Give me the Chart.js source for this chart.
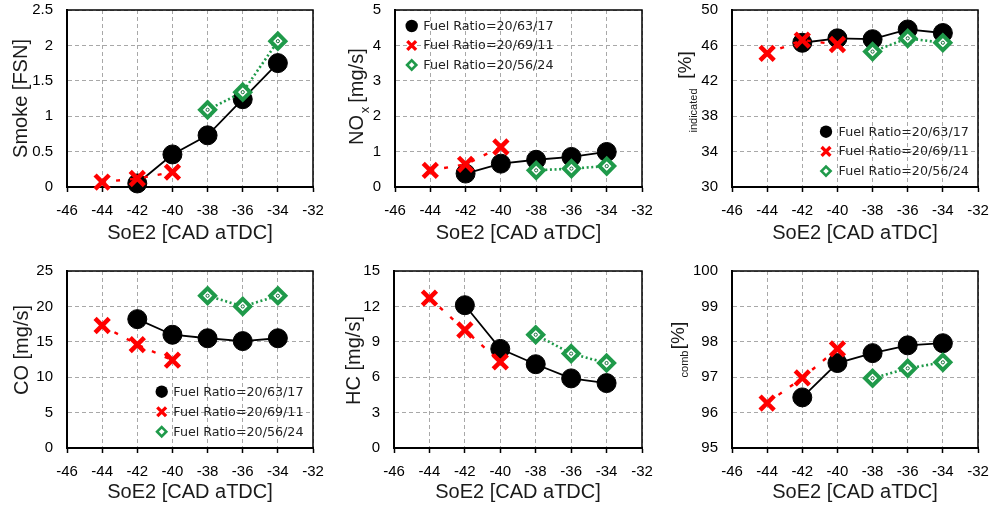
<!DOCTYPE html>
<html><head><meta charset="utf-8">
<script src="https://cdn.jsdelivr.net/npm/chart.js@4.4.0/dist/chart.umd.min.js"></script>
<style>
html,body{margin:0;padding:0;background:#fff;}
#wrap{position:relative;width:992px;height:508px;overflow:hidden;background:#fff;}
.cell{position:absolute;}
.cell canvas{display:block;}
</style></head><body><div id="wrap"></div>
<script>
// ---------------- data ----------------
const seriesNames = ['Fuel Ratio=20/63/17', 'Fuel Ratio=20/69/11', 'Fuel Ratio=20/56/24'];
const xTicks = [-46, -44, -42, -40, -38, -36, -34, -32];
const xTitle = 'SoE2 [CAD aTDC]';

const soeBlack = [-42, -40, -38, -36, -34];
const soeRed = [-44, -42, -40];
const soeGreen = [-38, -36, -34];

const smokeBlack = [0.05, 0.46, 0.73, 1.24, 1.75];
const smokeRed = [0.07, 0.12, 0.21];
const smokeGreen = [1.09, 1.34, 2.06];
const smokeTicks = [0, 0.5, 1, 1.5, 2, 2.5];

const noxBlack = [0.38, 0.66, 0.77, 0.85, 0.99];
const noxRed = [0.47, 0.64, 1.13];
const noxGreen = [0.47, 0.52, 0.59];
const noxTicks = [0, 1, 2, 3, 4, 5];

const etaIndBlack = [46.3, 46.8, 46.7, 47.8, 47.4];
const etaIndRed = [45.1, 46.6, 46.1];
const etaIndGreen = [45.3, 46.8, 46.3];
const etaIndTicks = [30, 34, 38, 42, 46, 50];

const coBlack = [18.2, 16.0, 15.5, 15.1, 15.5];
const coRed = [17.3, 14.6, 12.4];
const coGreen = [21.5, 20.0, 21.5];
const coTicks = [0, 5, 10, 15, 20, 25];

const hcBlack = [12.1, 8.4, 7.1, 5.9, 5.5];
const hcRed = [12.7, 10.0, 7.3];
const hcGreen = [9.6, 8.0, 7.2];
const hcTicks = [0, 3, 6, 9, 12, 15];

const etaCombBlack = [96.43, 97.4, 97.68, 97.9, 97.96];
const etaCombRed = [96.27, 96.98, 97.8];
const etaCombGreen = [96.97, 97.25, 97.42];
const etaCombTicks = [95, 96, 97, 98, 99, 100];

// ---------------- styles ----------------
const BLACK = '#000000', RED = '#ff0000', GREEN = '#1f9a4a';
const TXT = '#1a1a1a';
const FONT = '"Liberation Sans", Arial, sans-serif';
Chart.defaults.font.family = FONT;
Chart.defaults.color = TXT;

const panels = [
  {cell:[0,0,330,254], pad:{top:10,right:17}, yW:67, xH:67, xTitlePad:9,
   series:[smokeBlack, smokeRed, smokeGreen], ticks:smokeTicks,
   yTitle:[{t:'Smoke [FSN]', x:21, y:98.5, s:20}], legend:null},
  {cell:[330,0,330,254], pad:{top:10,right:18}, yW:65, xH:67, xTitlePad:9,
   series:[noxBlack, noxRed, noxGreen], ticks:noxTicks,
   yTitle:[{t:'NO', x:357.5, y:130, s:20},{t:'x', x:365, y:110, s:13},{t:'[mg/s]', x:357.5, y:75.5, s:20}],
   legend:{mx:16.7, tx:28.3, y0:16, dy:19.5}},
  {cell:[660,0,332,254], pad:{top:10,right:14}, yW:72, xH:67, xTitlePad:9,
   series:[etaIndBlack, etaIndRed, etaIndGreen], ticks:etaIndTicks,
   yTitle:[{t:'[%]', x:685.7, y:65, s:19},{t:'indicated', x:693.5, y:110.5, s:11}],
   legend:{mx:94, tx:106.6, y0:121.7, dy:19.7}},
  {cell:[0,254,330,254], pad:{top:17,right:17}, yW:67, xH:60, xTitlePad:4,
   series:[coBlack, coRed, coGreen], ticks:coTicks,
   yTitle:[{t:'CO [mg/s]', x:22.7, y:350, s:20}],
   legend:{mx:94.7, tx:106.3, y0:120.7, dy:20}},
  {cell:[330,254,330,254], pad:{top:17,right:18}, yW:64, xH:60, xTitlePad:4,
   series:[hcBlack, hcRed, hcGreen], ticks:hcTicks,
   yTitle:[{t:'HC [mg/s]', x:354, y:360.5, s:20}], legend:null},
  {cell:[660,254,332,254], pad:{top:17,right:14}, yW:72, xH:60, xTitlePad:4,
   series:[etaCombBlack, etaCombRed, etaCombGreen], ticks:etaCombTicks,
   yTitle:[{t:'[%]', x:679, y:335.5, s:19},{t:'comb', x:685, y:364, s:11}], legend:null}
];

function pts(xs, ys){ return xs.map((x,i)=>({x:x, y:ys[i]})); }
function fmt(v){ return String(+Number(v).toFixed(2)); }

function drawMarker(ctx, kind, x, y, k){
  ctx.save();
  if(kind===0){
    ctx.fillStyle=BLACK; ctx.beginPath(); ctx.arc(x,y,6.2*k,0,Math.PI*2); ctx.fill();
  } else if(kind===1){
    ctx.strokeStyle=RED; ctx.lineWidth=3.3*k; ctx.beginPath();
    const d=4.4*k; ctx.moveTo(x-d,y-d); ctx.lineTo(x+d,y+d); ctx.moveTo(x+d,y-d); ctx.lineTo(x-d,y+d); ctx.stroke();
  } else {
    ctx.strokeStyle=GREEN; ctx.fillStyle='#fff'; ctx.lineWidth=2.6*k; ctx.beginPath();
    const r=4.6*k; ctx.moveTo(x-r,y); ctx.lineTo(x,y-r); ctx.lineTo(x+r,y); ctx.lineTo(x,y+r); ctx.closePath(); ctx.fill(); ctx.stroke();
  }
  ctx.restore();
}

const wrap = document.getElementById('wrap');
panels.forEach((p, idx) => {
  const [cx, cy, cw, chh] = p.cell;
  const div = document.createElement('div');
  div.className='cell';
  div.style.left=cx+'px'; div.style.top=cy+'px'; div.style.width=cw+'px'; div.style.height=chh+'px';
  const cv = document.createElement('canvas');
  cv.width=cw; cv.height=chh;
  div.appendChild(cv); wrap.appendChild(div);

  const frame = {id:'frame'+idx, afterDraw(chart){
    const a=chart.chartArea, ctx=chart.ctx;
    ctx.save(); ctx.strokeStyle=BLACK; ctx.lineWidth=1.5;
    ctx.beginPath(); ctx.moveTo(a.left, a.top); ctx.lineTo(a.right, a.top); ctx.lineTo(a.right, a.bottom); ctx.stroke();
    ctx.restore();
    // y-axis titles
    p.yTitle.forEach(q => {
      ctx.save(); ctx.translate(q.x-cx, q.y-cy); ctx.rotate(-Math.PI/2);
      ctx.font = q.s+'px '+FONT; ctx.fillStyle=TXT; ctx.textAlign='center'; ctx.textBaseline='middle';
      ctx.fillText(q.t, 0, 0); ctx.restore();
    });
    // legend
    if(p.legend){
      const L=p.legend;
      seriesNames.forEach((name,i)=>{
        const y=a.top+L.y0+i*L.dy;
        drawMarker(ctx, i, a.left+L.mx, y, 1);
        ctx.save(); ctx.font='12.7px "DejaVu Sans", Verdana, sans-serif'; ctx.fillStyle='#222';
        ctx.textAlign='left'; ctx.textBaseline='middle'; ctx.fillText(name, a.left+L.tx, y+0.5); ctx.restore();
      });
    }
  }};

  const t = p.ticks;
  new Chart(cv, {
    type:'line',
    data:{datasets:[
      {label:seriesNames[0], data:pts(soeBlack,p.series[0]), borderColor:BLACK, backgroundColor:BLACK, borderWidth:1.8,
       pointStyle:'circle', pointRadius:9.5, pointBorderWidth:1, pointBackgroundColor:BLACK, pointBorderColor:BLACK, order:3, clip:false},
      {label:seriesNames[1], data:pts(soeRed,p.series[1]), borderColor:RED, backgroundColor:RED, borderWidth:2.4, borderDash:[4,10],
       pointStyle:'crossRot', pointRadius:10, pointBorderWidth:4.5, pointBorderColor:RED, pointBackgroundColor:RED, order:2, clip:false},
      {label:seriesNames[2], data:pts(soeGreen,p.series[2]), borderColor:GREEN, backgroundColor:'#fff', borderWidth:2.6, borderDash:[2,2.6],
       pointStyle:'rectRot', pointRadius:7.5, pointBorderWidth:4, pointBorderColor:GREEN, pointBackgroundColor:'#fff', order:1, clip:false},
      {label:'', data:pts(soeGreen,p.series[2]), showLine:false, pointStyle:'circle', pointRadius:1.6, pointBorderWidth:1,
       pointBorderColor:'#17703a', pointBackgroundColor:'#fff', order:0, clip:false}
    ]},
    options:{
      responsive:false, animation:false, devicePixelRatio:1,
      layout:{autoPadding:false, padding:{top:p.pad.top, right:p.pad.right, left:0, bottom:0}},
      plugins:{legend:{display:false}, tooltip:{enabled:false}},
      scales:{
        x:{type:'linear', position:'bottom', min:xTicks[0], max:xTicks[xTicks.length-1], afterFit:(s)=>{s.height=p.xH;},
           ticks:{stepSize:xTicks[1]-xTicks[0], padding:0, maxRotation:0, autoSkip:false, color:'#000',
                  font:{size:15, lineHeight:'38px'}, callback:fmt},
           grid:{color:'#a8a8a8', lineWidth:1, drawTicks:true, tickLength:5, tickColor:'#000', tickWidth:1.5, tickBorderDash:[]},
           border:{display:true, color:'#000', width:2, dash:[4,3]},
           title:{display:true, text:xTitle, color:TXT, font:{size:20}, padding:{top:0, bottom:p.xTitlePad}}},
        y:{type:'linear', position:'left', min:t[0], max:t[t.length-1], afterFit:(s)=>{s.width=p.yW;},
           ticks:{stepSize:t[1]-t[0], padding:0, color:'#000', font:{size:15}, callback:fmt},
           grid:{color:'#a8a8a8', lineWidth:1, drawTicks:true, tickLength:14, tickColor:'rgba(0,0,0,0)'},
           border:{display:true, color:'#000', width:2, dash:[4,3]}}
      }
    },
    plugins:[frame]
  });
});
</script>
</body></html>
